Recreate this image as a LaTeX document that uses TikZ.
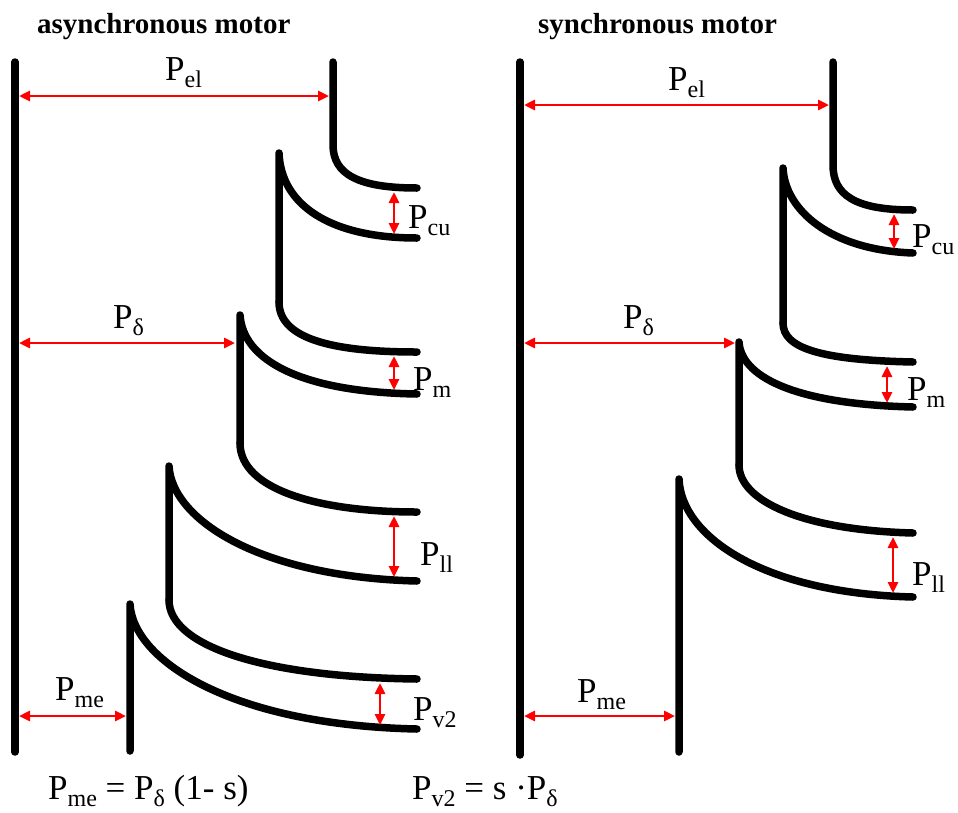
\documentclass[tikz,border=0pt]{standalone}
\usepackage{fontspec}
\setmainfont{Liberation Serif}
\usetikzlibrary{arrows.meta}
\newcommand{\Pw}[1]{P\raisebox{-7pt}{\fontsize{24}{24}\selectfont #1}}
\tikzset{
  flow/.style={line width=7.5pt, line cap=round, line join=round},
  dim/.style={red, line width=2.7pt, {Triangle[length=11pt,width=10pt]}-{Triangle[length=11pt,width=10pt]}},
  lbl/.style={anchor=base west, inner sep=0pt, font=\fontsize{35}{35}\selectfont},
  head/.style={anchor=base west, inner sep=0pt, font=\fontsize{29}{29}\selectfont\bfseries},
}
\begin{document}
\begin{tikzpicture}[x=1pt, y=-1pt]
    \useasboundingbox (0,0) rectangle (958,812);
    % Titles
    \node[head] (tasync) at (37,33) {asynchronous motor};
    \node[head] (tsync) at (538,33) {synchronous motor};

    % ---- asynchronous motor ----
    \draw[flow] (15,62) -- (15,752);
    \draw[flow] (333,62) -- (333,145) .. controls (333,175) and (360,188) .. (417,188);
    \draw[flow] (279,302) -- (279,153) .. controls (281,205) and (330,238) .. (417,238);
    \draw[flow] (279,302) .. controls (279,338) and (330,352) .. (417,352);
    \draw[flow] (240,443) -- (240,315) .. controls (243,360) and (300,392) .. (417,394);
    \draw[flow] (240,443) .. controls (240,490) and (320,512) .. (417,512);
    \draw[flow] (169,600) -- (169,466) .. controls (172,520) and (260,577) .. (417,581);
    \draw[flow] (169,600) .. controls (169,645) and (260,677) .. (417,679);
    \draw[flow] (130,751) -- (130,604) .. controls (133,660) and (230,725) .. (417,729);
    % Arrow ends
    \coordinate (elA1) at (19,96);   \coordinate (elA2) at (329,96);
    \coordinate (cuA1) at (394,192); \coordinate (cuA2) at (394,234);
    \coordinate (dA1) at (19,343);   \coordinate (dA2) at (235,343);
    \coordinate (mA1) at (394,356);  \coordinate (mA2) at (394,390);
    \coordinate (llA1) at (394,516); \coordinate (llA2) at (394,577);
    \coordinate (vA1) at (380,683);  \coordinate (vA2) at (380,725);
    \coordinate (meA1) at (19,716);  \coordinate (meA2) at (126,716);
    \draw[dim] (elA1) -- (elA2);
    \draw[dim] (cuA1) -- (cuA2);
    \draw[dim] (dA1) -- (dA2);
    \draw[dim] (mA1) -- (mA2);
    \draw[dim] (llA1) -- (llA2);
    \draw[dim] (vA1) -- (vA2);
    \draw[dim] (meA1) -- (meA2);
    % Labels
    \node[lbl] (PelA) at (165,80) {\Pw{el}};
    \node[lbl] (PcuA) at (408,228) {\Pw{cu}};
    \node[lbl] (PdA) at (113,328) {\Pw{δ}};
    \node[lbl] (PmA) at (413,390) {\Pw{m}};
    \node[lbl] (PllA) at (420,565) {\Pw{ll}};
    \node[lbl] (Pv2A) at (413,720) {\Pw{v2}};
    \node[lbl] (PmeA) at (55,700) {\Pw{me}};

    % ---- synchronous motor ----
    \draw[flow] (520,62) -- (520,755);
    \draw[flow] (833,62) -- (833,165) .. controls (833,195) and (855,210) .. (913,210);
    \draw[flow] (783,323) -- (783,168) .. controls (785,210) and (830,250) .. (913,253);
    \draw[flow] (783,323) .. controls (783,348) and (820,360) .. (913,362);
    \draw[flow] (739,465) -- (739,342) .. controls (741,375) and (790,404) .. (913,407);
    \draw[flow] (739,465) .. controls (739,500) and (800,530) .. (913,533);
    \draw[flow] (679,752) -- (679,479) .. controls (681,535) and (760,593) .. (913,597);
    % Arrow ends
    \coordinate (elB1) at (524,105); \coordinate (elB2) at (829,105);
    \coordinate (cuB1) at (894,214); \coordinate (cuB2) at (894,249);
    \coordinate (dB1) at (524,343);  \coordinate (dB2) at (735,343);
    \coordinate (mB1) at (887,366);  \coordinate (mB2) at (887,403);
    \coordinate (llB1) at (893,537); \coordinate (llB2) at (893,593);
    \coordinate (meB1) at (524,716); \coordinate (meB2) at (675,716);
    \draw[dim] (elB1) -- (elB2);
    \draw[dim] (cuB1) -- (cuB2);
    \draw[dim] (dB1) -- (dB2);
    \draw[dim] (mB1) -- (mB2);
    \draw[dim] (llB1) -- (llB2);
    \draw[dim] (meB1) -- (meB2);
    % Labels
    \node[lbl] (PelB) at (668,90) {\Pw{el}};
    \node[lbl] (PcuB) at (912,247) {\Pw{cu}};
    \node[lbl] (PdB) at (623,328) {\Pw{δ}};
    \node[lbl] (PmB) at (907,400) {\Pw{m}};
    \node[lbl] (PllB) at (912,585) {\Pw{ll}};
    \node[lbl] (PmeB) at (577,702) {\Pw{me}};

    % Formulas
    \node[lbl] (fme) at (48,799) {\Pw{me} = \Pw{δ} (1- s)};
    \node[lbl] (fv2) at (412,799) {\Pw{v2} = s ·\Pw{δ}};
\end{tikzpicture}
\end{document}
